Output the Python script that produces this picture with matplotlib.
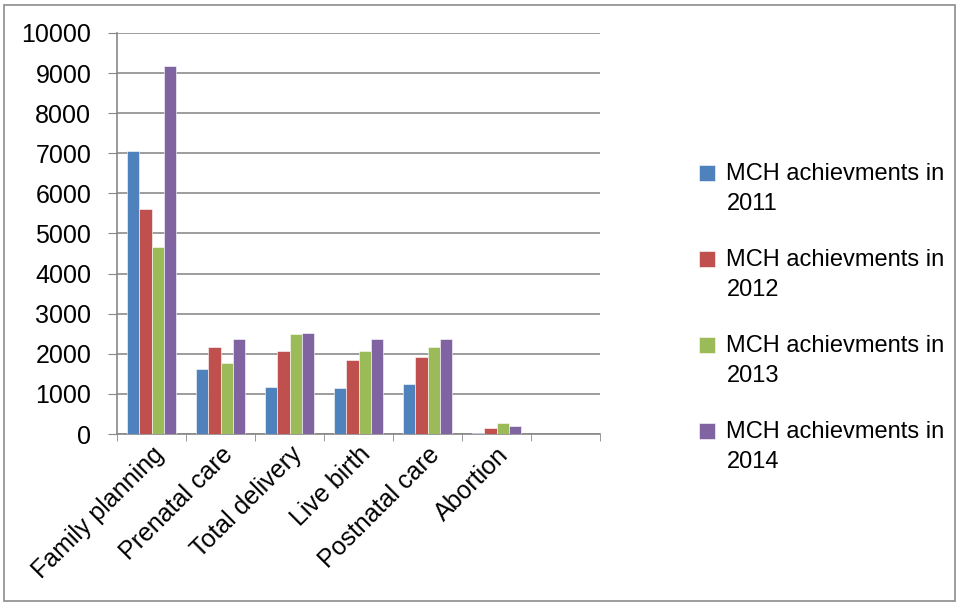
import numpy as np
import matplotlib.pyplot as plt
from matplotlib.patches import Rectangle
from matplotlib.container import BarContainer
from matplotlib.legend_handler import HandlerPatch

categories = ["Family planning", "Prenatal care", "Total delivery", "Live birth",
              "Postnatal care", "Abortion"]
series_names = ["MCH achievments in\n2011", "MCH achievments in\n2012",
                "MCH achievments in\n2013", "MCH achievments in\n2014"]
v2011 = [7050, 1620, 1180, 1150, 1240, 35]
v2012 = [5600, 2170, 2080, 1840, 1925, 160]
v2013 = [4660, 1780, 2490, 2080, 2170, 275]
v2014 = [9170, 2360, 2520, 2360, 2360, 190]
colors = ["#4F81BD", "#C0504D", "#9BBB59", "#8064A2"]

plt.rcParams['font.family'] = ['Liberation Sans', 'DejaVu Sans']

fig = plt.figure(figsize=(9.6, 6.05), dpi=100)
ax = fig.add_axes([117 / 960, 1 - 434 / 605, (600 - 117) / 960, (434 - 33) / 605])

x = np.arange(len(categories))
w = 0.18
handles = []
for i, vals in enumerate([v2011, v2012, v2013, v2014]):
    b = ax.bar(x + (i - 1.5) * w, vals, w, color=colors[i], edgecolor='white',
               linewidth=0.4, label=series_names[i], zorder=3)
    handles.append(b)

ax.set_xlim(-0.5, 6.5)
ax.set_ylim(0, 10000)
ax.set_yticks(np.arange(0, 10001, 1000))
ax.tick_params(axis='y', labelsize=18, length=6.5, color='#888888', pad=12)
ax.set_xticks(x)
ax.set_xticklabels(categories, rotation=45, ha='right', rotation_mode='anchor', fontsize=18)
ax.set_xticks(np.arange(-0.5, 7, 1), minor=True)
ax.tick_params(axis='x', which='major', length=0, pad=6)
ax.tick_params(axis='x', which='minor', length=5, color='#888888')
ax.grid(axis='y', color='#8c8c8c', linewidth=1.2, zorder=0)
for s in ['top', 'right']:
    ax.spines[s].set_visible(False)
for s in ['left', 'bottom']:
    ax.spines[s].set_color('#888888')
    ax.spines[s].set_linewidth(1.2)

shift_pt = 11.6


def first_line_square(legend, orig_handle, xdescent, ydescent, width, height, fontsize):
    return Rectangle((-xdescent, -ydescent + shift_pt), width, height)


leg = fig.legend(handles=handles, labels=series_names, loc='upper left',
                 bbox_to_anchor=(678 / 960, 1 - 142 / 605), frameon=False, fontsize=17,
                 handlelength=0.65, handleheight=0.65, handletextpad=0.5, labelspacing=1.45,
                 handler_map={BarContainer: HandlerPatch(patch_func=first_line_square,
                                                         update_func=lambda h, o: h.update_from(o[0]))})
for t in leg.get_texts():
    t.set_linespacing(1.45)

fig.patches.append(Rectangle((4 / 960, 4 / 605), 951 / 960, 596 / 605, transform=fig.transFigure,
                             fill=False, edgecolor='#8c8c8c', linewidth=1.2))

fig.savefig('out.png', dpi=100)
